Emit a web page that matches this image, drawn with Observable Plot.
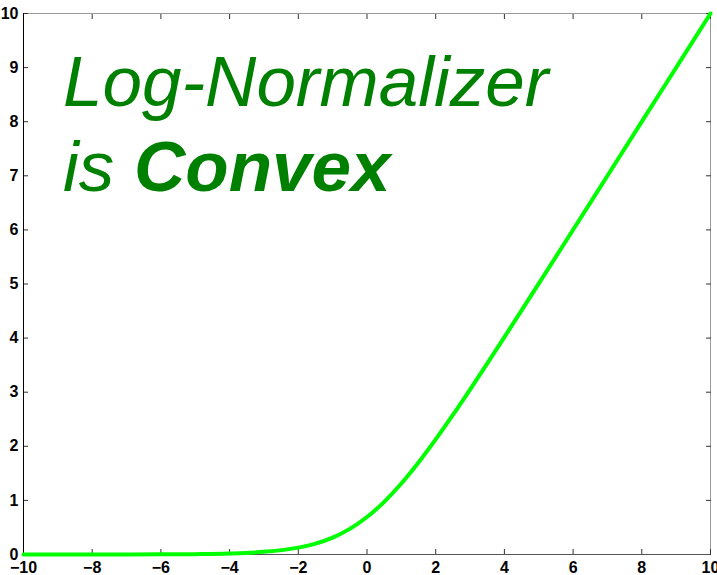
<!DOCTYPE html>
<html>
<head>
<meta charset="utf-8">
<script src="https://cdn.jsdelivr.net/npm/d3@7"></script>
<script src="https://cdn.jsdelivr.net/npm/@observablehq/plot@0.6"></script>
<style>
  html, body { margin: 0; padding: 0; background: #fff; }
  #wrap { position: relative; width: 717px; height: 575px; }
  #title { position: absolute; left: 63px; top: 39px; color: #008000;
    font-family: "Liberation Sans", Arial, sans-serif; font-style: italic;
    font-size: 71px; line-height: 85px; white-space: nowrap; pointer-events: none; }
  #title b { font-weight: bold; }
</style>
</head>
<body>
<div id="wrap">
  <div id="chart"></div>
  <div id="title">Log-Normalizer<br>is <b>Convex</b></div>
</div>
<script>
const xs = [-10, -9, -8, -7, -6, -5, -4, -3, -2, -1.5, -1, -0.5, 0, 0.5, 1, 1.5, 2, 2.5, 3, 4, 5, 6, 7, 8, 9, 10];
const ys = [0.00005, 0.0001, 0.0003, 0.0009, 0.0025, 0.0067, 0.018, 0.049, 0.127, 0.201, 0.313, 0.474, 0.693, 0.974, 1.313, 1.701, 2.127, 2.579, 3.049, 4.018, 5.007, 6.002, 7.001, 8.0003, 9.0001, 10.0];
const xTicks = [-10, -8, -6, -4, -2, 0, 2, 4, 6, 8, 10];
const yTicks = [0, 1, 2, 3, 4, 5, 6, 7, 8, 9, 10];

const data = xs.map((x, i) => ({x, y: ys[i]}));
const fmt = d => d < 0 ? "\u2212" + Math.abs(d) : String(d);

const chart = Plot.plot({
  width: 717,
  height: 575,
  marginLeft: 23,
  marginTop: 13,
  marginRight: 7,
  marginBottom: 21,
  style: {fontFamily: "'Liberation Sans', Arial, sans-serif", fontSize: "16px", fontWeight: "bold", color: "#000", background: "#fff", overflow: "visible"},
  x: {domain: [-10, 10]},
  y: {domain: [0, 10]},
  marks: [
    Plot.frame({stroke: "#999"}),
    Plot.axisX(xTicks, {anchor: "bottom", tickSize: 0, tickPadding: 7, tickFormat: fmt, label: null}),
    Plot.axisY(yTicks, {anchor: "left", tickSize: 0, tickPadding: 5, tickFormat: fmt, label: null}),
    Plot.axisX(xTicks, {anchor: "bottom", tickSize: -5, text: null, label: null, stroke: "#333"}),
    Plot.axisX(xTicks, {anchor: "top", tickSize: -5, text: null, label: null, stroke: "#333"}),
    Plot.axisY(yTicks, {anchor: "left", tickSize: -5, text: null, label: null, stroke: "#333"}),
    Plot.axisY(yTicks, {anchor: "right", tickSize: -5, text: null, label: null, stroke: "#333"}),
    Plot.ruleX([-10], {stroke: "#000"}),
    Plot.ruleY([0], {stroke: "#555"}),
    Plot.line(data, {x: "x", y: "y", stroke: "#00ff00", strokeWidth: 4, curve: "monotone-x"})
  ]
});
document.getElementById("chart").appendChild(chart);
</script>
</body>
</html>
